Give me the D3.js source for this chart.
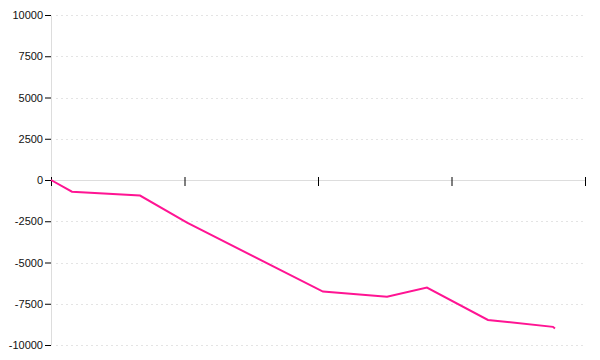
<!DOCTYPE html>
<html>
<head>
<meta charset="utf-8">
<script src="https://cdn.jsdelivr.net/npm/d3@7"></script>
<style>
  body { margin: 0; background: #fff; }
  .axis text { font-family: "Liberation Sans", Arial, sans-serif; font-size: 11px; fill: #111; }
  .axis .domain { stroke: #ddd; }
  .grid line { stroke: #e4e4e4; stroke-dasharray: 2,3; }
</style>
</head>
<body>
<div id="chart"></div>
<script>
// x positions (axis units, ticks at 0..4) and values
const xValues = [0, 0.157, 0.667, 1.019, 2.037, 2.517, 2.816, 3.273, 3.76, 3.775];
const yValues = [0, -710, -945, -2590, -6760, -7070, -6520, -8485, -8900, -9000];
const xTicks = [0, 1, 2, 3, 4];
const yTicks = [-10000, -7500, -5000, -2500, 0, 2500, 5000, 7500, 10000];

const WIDTH = 600, HEIGHT = 360;
let margin = {top: 15, right: 15, bottom: 15, left: 51};
let width = WIDTH - margin.left - margin.right;
let height = HEIGHT - margin.top - margin.bottom;

let xScale = d3.scaleLinear().domain([0, 4]).range([0, width]);
let yScale = d3.scaleLinear().domain([-10000, 10000]).range([height, 0]);

let svg = d3.select('#chart').append('svg')
    .attr('width', WIDTH)
    .attr('height', HEIGHT);
let g = svg.append('g')
    .attr('transform', 'translate(' + margin.left + ',' + margin.top + ')');

// dashed grid lines
g.append('g')
    .attr('class', 'grid')
  .selectAll('line')
    .data(yTicks)
  .enter().append('line')
    .attr('x1', 5)
    .attr('x2', width)
    .attr('y1', d => Math.round(yScale(d)) + 0.5)
    .attr('y2', d => Math.round(yScale(d)) + 0.5);

// y-axis
let yAxis = d3.axisLeft(yScale).tickValues(yTicks).tickFormat(d => String(d))
    .tickSizeOuter(0).tickPadding(2);
let yG = g.append('g')
    .attr('class', 'axis y')
    .call(yAxis);
yG.selectAll('.tick line').attr('stroke', '#000');

// x-axis through zero, no labels
let xAxis = d3.axisBottom(xScale).tickValues(xTicks).tickFormat('').tickSizeOuter(0).tickSizeInner(6);
let xG = g.append('g')
    .attr('class', 'axis x')
    .attr('transform', 'translate(0,' + yScale(0) + ')')
    .call(xAxis);
xG.selectAll('.tick line').attr('stroke', '#000').attr('y1', -3);

// line
let line = d3.line()
    .x((d, i) => xScale(xValues[i]))
    .y(d => yScale(d));
g.append('path')
    .datum(yValues)
    .attr('fill', 'none')
    .attr('stroke', '#ff1493')
    .attr('stroke-width', 2)
    .attr('d', line);
</script>
</body>
</html>
